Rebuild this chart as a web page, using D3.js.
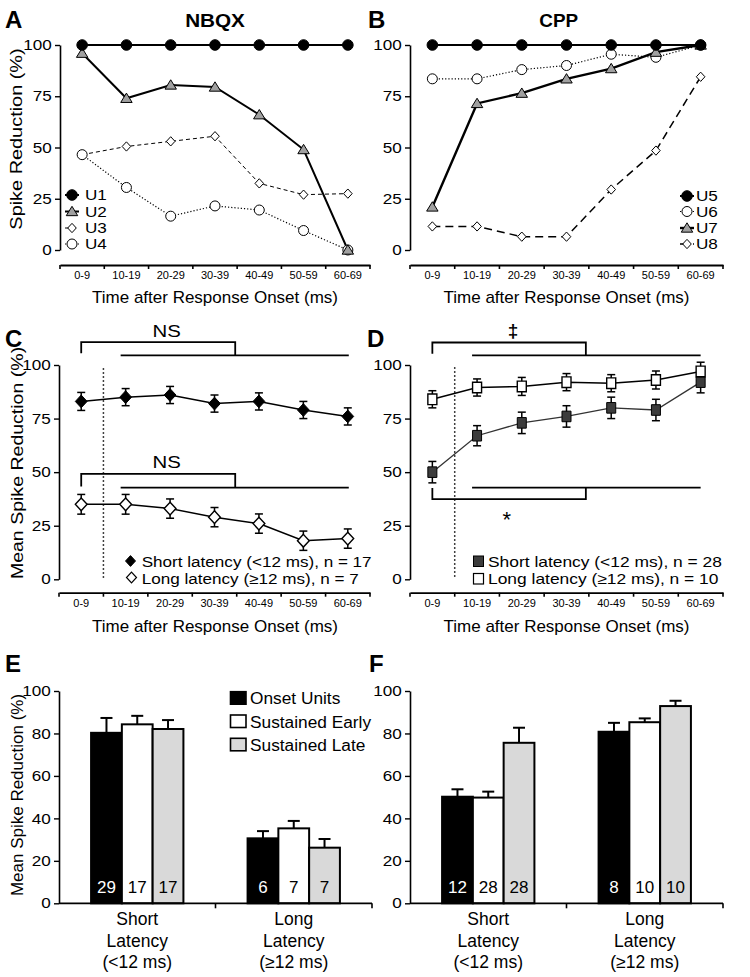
<!DOCTYPE html>
<html><head><meta charset="utf-8">
<script src="https://cdn.jsdelivr.net/npm/d3@7"></script>
<style>
body{margin:0;background:#fff}
svg{display:block}
text{font-family:"Liberation Sans",Arial,Helvetica,sans-serif}
</style>
</head><body>
<svg id="fig" width="750" height="977"></svg>
<script>
// ---------------- DATA ----------------
const timeBins = ["0-9","10-19","20-29","30-39","40-49","50-59","60-69"];
const pctTicks = [0,25,50,75,100];
const barTicks = [0,20,40,60,80,100];

// Panel A (NBQX, single units)
const nbqxU1 = [100,100,100,100,100,100,100];
const nbqxU2 = [96,74,80.5,79.5,66,49,0];
const nbqxU3 = [46.5,50.5,53,55.5,32.5,27,27.5];
const nbqxU4 = [46.5,30.5,16.5,21.5,19.5,9.5,0];
// Panel B (CPP, single units)
const cppU5 = [100,100,100,100,100,100,100];
const cppU6 = [83.5,83.5,88,90,95.5,94,100];
const cppU7 = [21,71.5,76.5,83.5,88.5,96.5,100];
const cppU8 = [11.5,11.5,6.5,6.5,29.5,48.5,84.5];
// Panel C (NBQX population)
const nbqxShortMean = [83,85,86,82,83,79,76];
const nbqxShortSem  = [4.2,4,4,4,4,4,4];
const nbqxLongMean  = [35,35,33,29,26,18,19];
const nbqxLongSem   = [4.6,4.6,4.5,4.5,4.5,4.5,4.5];
// Panel D (CPP population)
const cppShortMean = [50,67,73,76,80,79,92];
const cppShortSem  = [5,4.7,5,5,5,5,5];
const cppLongMean  = [84,89.5,90,92,91.5,93,97];
const cppLongSem   = [4,4,4.2,4,4,4.2,4.3];
// Panels E/F (bar charts)
const latencyGroups = ["Short","Long"];
const latencyLabels = [["Short","Latency","(<12 ms)"],["Long","Latency","(\u226512 ms)"]];
const unitTypes = ["Onset Units","Sustained Early","Sustained Late"];
const nbqxBarMean = [[80.3,84.3,82.1],[30.6,35.3,26.2]];
const nbqxBarSem  = [[7,4,4.2],[3.4,3.5,4.1]];
const nbqxBarN    = [[29,17,17],[6,7,7]];
const cppBarMean  = [[50.2,49.8,75.6],[80.8,85.3,92.9]];
const cppBarSem   = [[3.5,2.8,7.1],[4.2,1.8,2.5]];
const cppBarN     = [[12,28,28],[8,10,10]];

// ---------------- HELPERS ----------------
const FONT = '"Liberation Sans",Arial,Helvetica,sans-serif';
const svg = d3.select("#fig");
function txt(g, x, y, s, o = {}) {
  let tr = `translate(${x},${y})`;
  if (o.rot) tr += ` rotate(${o.rot})`;
  if (o.sx && o.sx !== 1) tr += ` scale(${o.sx},1)`;
  const t = g.append("text").attr("transform", tr)
    .style("font-size", (o.size || 17) + "px")
    .style("font-family", FONT)
    .attr("text-anchor", o.anchor || "start")
    .attr("fill", o.fill || "#000")
    .text(s);
  if (o.weight) t.style("font-weight", o.weight);
  return t;
}
const diamondT = { draw(c, s) { const r = Math.sqrt(s); c.moveTo(0, -r*1.08); c.lineTo(r, 0); c.lineTo(0, r*1.08); c.lineTo(-r, 0); c.closePath(); } };
const triT = { draw(c, s) { const r = Math.sqrt(s); c.moveTo(0, -r); c.lineTo(r*1.1, r*0.8); c.lineTo(-r*1.1, r*0.8); c.closePath(); } };
const rectT = { draw(c, s) { const r = Math.sqrt(s); c.rect(-r*0.85, -r, r*1.7, r*2); } };
const circT = { draw(c, s) { const r = Math.sqrt(s); c.moveTo(r, 0); c.arc(0, 0, r, 0, 2*Math.PI); } };
const shapes = { circle: circT, diamond: diamondT, triangle: triT, rect: rectT };

function yAxis(g, x0, y, ticks, sx) {
  const a = g.append("g").attr("transform", `translate(${x0},0)`)
    .call(d3.axisLeft(y).tickValues(ticks).tickSize(5).tickSizeOuter(0).tickPadding(2));
  a.select(".domain").attr("stroke-width", 1.6);
  a.selectAll(".tick line").attr("stroke-width", 1.4);
  a.selectAll(".tick text").style("font-size", "14.5px").attr("fill", "#000")
    .style("font-family", FONT)
    .attr("transform", `scale(${sx},1)`);
  return a;
}
function timeXAxis(g, x, yPos) {
  const a = g.append("g").attr("transform", `translate(0,${yPos})`)
    .call(d3.axisBottom(x).tickSize(0).tickSizeOuter(0).tickPadding(6.5));
  a.select(".domain").attr("stroke-width", 1.8);
  a.selectAll(".tick text").style("font-size", "11px").attr("fill", "#000")
    .style("font-family", FONT);
  const r = x.range();
  const bounds = d3.range(timeBins.length + 1).map(i => r[0] + i * x.step());
  a.selectAll("line.bt").data(bounds).join("line").attr("class", "bt")
    .attr("x1", d => d).attr("x2", d => d).attr("y1", 0).attr("y2", 4)
    .attr("stroke", "#000").attr("stroke-width", 1.6);
  return a;
}
function drawSeries(g, x, y, vals, st) {
  const cx = (d, i) => x(timeBins[i]) + x.bandwidth() / 2;
  g.append("path").datum(vals)
    .attr("d", d3.line().x(cx).y(d => y(d)))
    .attr("fill", "none").attr("stroke", st.lineColor || "#000")
    .attr("stroke-width", st.lw).attr("stroke-dasharray", st.dash || null);
}
function drawMarkers(g, x, y, vals, st) {
  const cx = (d, i) => x(timeBins[i]) + x.bandwidth() / 2;
  g.selectAll(null).data(vals).join("path")
    .attr("transform", (d, i) => `translate(${cx(d, i)},${y(d)})`)
    .attr("d", d3.symbol().type(shapes[st.shape]).size(st.r * st.r))
    .attr("fill", st.fill).attr("stroke", "#000").attr("stroke-width", st.sw || 1);
}
function drawErr(g, x, y, vals, errs, cap, sw) {
  const cx = i => x(timeBins[i]) + x.bandwidth() / 2;
  const eg = g.append("g").attr("stroke", "#000").attr("stroke-width", sw);
  vals.forEach((v, i) => {
    eg.append("line").attr("x1", cx(i)).attr("x2", cx(i)).attr("y1", y(v - errs[i])).attr("y2", y(v + errs[i]));
    [v - errs[i], v + errs[i]].forEach(e => eg.append("line")
      .attr("x1", cx(i) - cap / 2).attr("x2", cx(i) + cap / 2).attr("y1", y(e)).attr("y2", y(e)));
  });
}
function legendItem(g, lx, mx, tx, cy, label, st) {
  if (st.lw) g.append("line").attr("x1", lx[0]).attr("x2", lx[1]).attr("y1", cy).attr("y2", cy)
    .attr("stroke", "#000").attr("stroke-width", st.lw).attr("stroke-dasharray", st.dash || null);
  g.append("path").attr("transform", `translate(${mx},${cy})`)
    .attr("d", d3.symbol().type(shapes[st.shape]).size(st.r * st.r))
    .attr("fill", st.fill).attr("stroke", "#000").attr("stroke-width", st.sw || 1);
  txt(g, tx, cy + 5.2, label, { size: 14.5, sx: 1.18 });
}

// ---------------- PANEL A ----------------
{
  const g = svg.append("g");
  const x = d3.scaleBand().domain(timeBins).range([60, 370]);
  const y = d3.scaleLinear().domain([0, 100]).range([250, 45]);
  yAxis(g, 60, y, pctTicks, 1.18);
  timeXAxis(g, x, 265);
  const sU1 = { lw: 2, shape: "circle", r: 5.3, fill: "#000" };
  const sU2 = { lw: 2, shape: "triangle", r: 5.2, fill: "#a0a0a0" };
  const sU3 = { lw: 1, dash: "4,3", shape: "diamond", r: 4.3, fill: "#fff" };
  const sU4 = { lw: 1.2, dash: "1.2,2", shape: "circle", r: 5, fill: "#fff" };
  drawSeries(g, x, y, nbqxU3, sU3);
  drawSeries(g, x, y, nbqxU4, sU4);
  drawSeries(g, x, y, nbqxU2, sU2);
  drawSeries(g, x, y, nbqxU1, sU1);
  drawMarkers(g, x, y, nbqxU3, sU3);
  drawMarkers(g, x, y, nbqxU4, sU4);
  drawMarkers(g, x, y, nbqxU2, sU2);
  drawMarkers(g, x, y, nbqxU1, sU1);
  const lg = g.append("g");
  legendItem(lg, [65, 79], 72, 85, 195, "U1", sU1);
  legendItem(lg, [65, 79], 72, 85, 211.5, "U2", sU2);
  legendItem(lg, [65, 79], 72, 85, 228, "U3", sU3);
  legendItem(lg, [65, 79], 72, 85, 244, "U4", sU4);
  txt(g, 5, 28, "A", { size: 24, weight: "bold" });
  txt(g, 215, 27.3, "NBQX", { size: 18, weight: "bold", anchor: "middle", sx: 1.15 });
  txt(g, 22, 139, "Spike Reduction (%)", { size: 17, anchor: "middle", rot: -90, sx: 1.17 });
  txt(g, 215, 302.5, "Time after Response Onset (ms)", { size: 17, anchor: "middle" });
}

// ---------------- PANEL B ----------------
{
  const g = svg.append("g");
  const x = d3.scaleBand().domain(timeBins).range([410, 723]);
  const y = d3.scaleLinear().domain([0, 100]).range([250, 45]);
  yAxis(g, 410, y, pctTicks, 1.18);
  timeXAxis(g, x, 265);
  const sU5 = { lw: 2, shape: "circle", r: 5.3, fill: "#000" };
  const sU6 = { lw: 1.2, dash: "1.2,2", shape: "circle", r: 5, fill: "#fff" };
  const sU7 = { lw: 2.4, shape: "triangle", r: 5.2, fill: "#a0a0a0" };
  const sU8 = { lw: 1.5, dash: "8,5", shape: "diamond", r: 4.3, fill: "#fff" };
  drawSeries(g, x, y, cppU8, sU8);
  drawSeries(g, x, y, cppU6, sU6);
  drawSeries(g, x, y, cppU7, sU7);
  drawSeries(g, x, y, cppU5, sU5);
  drawMarkers(g, x, y, cppU8, sU8);
  drawMarkers(g, x, y, cppU6, sU6);
  drawMarkers(g, x, y, cppU7, sU7);
  drawMarkers(g, x, y, cppU5, sU5);
  const lg = g.append("g");
  legendItem(lg, [680, 694], 687, 696, 196, "U5", sU5);
  legendItem(lg, [680, 694], 687, 696, 211.5, "U6", sU6);
  legendItem(lg, [680, 694], 687, 696, 228, "U7", sU7);
  legendItem(lg, [680, 694], 687, 696, 244, "U8", sU8);
  txt(g, 368, 28, "B", { size: 24, weight: "bold" });
  txt(g, 558.7, 27.3, "CPP", { size: 18, weight: "bold", anchor: "middle", sx: 1.05 });
  txt(g, 566.5, 302.5, "Time after Response Onset (ms)", { size: 17, anchor: "middle" });
}

// ---------------- PANEL C ----------------
{
  const g = svg.append("g");
  const x = d3.scaleBand().domain(timeBins).range([59, 370]);
  const y = d3.scaleLinear().domain([0, 100]).range([579.3, 365]);
  const cx = b => x(b) + x.bandwidth() / 2;
  yAxis(g, 59, y, pctTicks, 1.18);
  timeXAxis(g, x, 592.7);
  g.append("line").attr("x1", x(timeBins[1])).attr("x2", x(timeBins[1]))
    .attr("y1", y(98.5)).attr("y2", y(0)).attr("stroke", "#000").attr("stroke-width", 1.5).attr("stroke-dasharray", "1.5,2.5");
  const br = g.append("g").attr("fill", "none").attr("stroke", "#000").attr("stroke-width", 1.8);
  const bnd4 = x(timeBins[4]) - 1.5;
  [[110.7, 105.5, 104.5], [49.2, 43.3, 42.8]].forEach(([top, tip, low]) => {
    br.append("path").attr("d", `M${cx(timeBins[0])},${y(tip)}V${y(top)}H${bnd4}V${y(low)}`);
    br.append("path").attr("d", `M${cx(timeBins[1]) - 5},${y(low)}H${cx(timeBins[6]) + 1}`);
  });
  txt(g, 166.7, y(110.7) - 5, "NS", { size: 17, anchor: "middle", sx: 1.2 });
  txt(g, 166.7, y(49.2) - 6, "NS", { size: 17, anchor: "middle", sx: 1.2 });
  const sS = { lw: 1.5, shape: "diamond", r: 5.9, fill: "#000" };
  const sL = { lw: 1.5, shape: "diamond", r: 5.9, fill: "#fff", sw: 1.4 };
  drawErr(g, x, y, nbqxShortMean, nbqxShortSem, 8, 1.5);
  drawErr(g, x, y, nbqxLongMean, nbqxLongSem, 8, 1.5);
  drawSeries(g, x, y, nbqxShortMean, sS);
  drawSeries(g, x, y, nbqxLongMean, sL);
  drawMarkers(g, x, y, nbqxShortMean, sS);
  drawMarkers(g, x, y, nbqxLongMean, sL);
  g.append("path").attr("transform", "translate(130.5,561)").attr("d", d3.symbol().type(diamondT).size(25)).attr("fill", "#000").attr("stroke", "#000");
  g.append("path").attr("transform", "translate(131.5,577.5)").attr("d", d3.symbol().type(diamondT).size(25)).attr("fill", "#fff").attr("stroke", "#000").attr("stroke-width", 1.2);
  txt(g, 141.7, 566.5, "Short latency (<12 ms), n = 17", { size: 15, sx: 1.14 });
  txt(g, 141.7, 583.7, "Long latency (\u226512 ms), n = 7", { size: 15, sx: 1.14 });
  txt(g, 5, 347, "C", { size: 24, weight: "bold" });
  txt(g, 23, 463, "Mean Spike Reduction (%)", { size: 17, anchor: "middle", rot: -90, sx: 1.15 });
  txt(g, 215, 631.5, "Time after Response Onset (ms)", { size: 17, anchor: "middle" });
}

// ---------------- PANEL D ----------------
{
  const g = svg.append("g");
  const x = d3.scaleBand().domain(timeBins).range([410, 723]);
  const y = d3.scaleLinear().domain([0, 100]).range([579.3, 365]);
  const cx = b => x(b) + x.bandwidth() / 2;
  yAxis(g, 410, y, pctTicks, 1.18);
  timeXAxis(g, x, 592.7);
  g.append("line").attr("x1", x(timeBins[1])).attr("x2", x(timeBins[1]))
    .attr("y1", y(99)).attr("y2", y(0)).attr("stroke", "#000").attr("stroke-width", 1.5).attr("stroke-dasharray", "1.5,2.5");
  const br = g.append("g").attr("fill", "none").attr("stroke", "#000").attr("stroke-width", 1.8);
  const bnd4 = x(timeBins[4]) - 3;
  br.append("path").attr("d", `M${cx(timeBins[0])},${y(105.3)}V${y(110.5)}H${bnd4}V${y(104.5)}`);
  br.append("path").attr("d", `M${cx(timeBins[1]) - 5},${y(104.5)}H${cx(timeBins[6])}`);
  br.append("path").attr("d", `M${cx(timeBins[1]) - 5},${y(42.8)}H${cx(timeBins[6])}`);
  br.append("path").attr("d", `M${cx(timeBins[0])},${y(42.6)}V${y(37.4)}H${bnd4}V${y(42.8)}`);
  txt(g, 513, 337, "\u2021", { size: 19, weight: "bold", anchor: "middle" });
  txt(g, 506.7, 527, "*", { size: 22, anchor: "middle" });
  const sS = { lw: 1.3, lineColor: "#333", shape: "rect", r: 5.3, fill: "#3c3c3c" };
  const sL = { lw: 1.5, shape: "rect", r: 5.3, fill: "#fff", sw: 1.4 };
  drawErr(g, x, y, cppShortMean, cppShortSem, 8, 1.5);
  drawErr(g, x, y, cppLongMean, cppLongSem, 8, 1.5);
  drawSeries(g, x, y, cppShortMean, sS);
  drawSeries(g, x, y, cppLongMean, sL);
  drawMarkers(g, x, y, cppShortMean, sS);
  drawMarkers(g, x, y, cppLongMean, sL);
  g.append("rect").attr("x", 473.5).attr("y", 556).attr("width", 10).attr("height", 10.5).attr("fill", "#3c3c3c").attr("stroke", "#000");
  g.append("rect").attr("x", 473.5).attr("y", 573.5).attr("width", 10).attr("height", 10.5).attr("fill", "#fff").attr("stroke", "#000").attr("stroke-width", 1.2);
  txt(g, 488, 566.5, "Short latency (<12 ms), n = 28", { size: 15, sx: 1.16 });
  txt(g, 488, 583.7, "Long latency (\u226512 ms), n = 10", { size: 15, sx: 1.16 });
  txt(g, 367, 347, "D", { size: 24, weight: "bold" });
  txt(g, 566.5, 631.5, "Time after Response Onset (ms)", { size: 17, anchor: "middle" });
}

// ---------------- PANELS E / F ----------------
const barFills = ["#000", "#fff", "#d9d9d9"];
const nFills = ["#fff", "#000", "#000"];
function barPanel(x0, x1, means, sems, ns) {
  const g = svg.append("g");
  const x = d3.scaleBand().domain(latencyGroups).range([x0, x1]).paddingInner(0.41).paddingOuter(0.205);
  const xs = d3.scaleBand().domain(unitTypes).range([0, x.bandwidth()]);
  const y = d3.scaleLinear().domain([0, 100]).range([903.3, 691]);
  latencyGroups.forEach((grp, gi) => {
    unitTypes.forEach((u, ui) => {
      const bx = x(grp) + xs(u), bw = xs.bandwidth(), m = means[gi][ui], e = sems[gi][ui];
      const c = bx + bw / 2;
      g.append("line").attr("x1", c).attr("x2", c).attr("y1", y(m)).attr("y2", y(m + e)).attr("stroke", "#000").attr("stroke-width", 2);
      g.append("line").attr("x1", c - 6).attr("x2", c + 6).attr("y1", y(m + e)).attr("y2", y(m + e)).attr("stroke", "#000").attr("stroke-width", 2);
      g.append("rect").attr("x", bx).attr("y", y(m)).attr("width", bw).attr("height", y(0) - y(m))
        .attr("fill", barFills[ui]).attr("stroke", "#000").attr("stroke-width", 2);
      txt(g, c, 892.5, String(ns[gi][ui]), { size: 17, anchor: "middle", fill: nFills[ui] });
    });
    latencyLabels[gi].forEach((s, li) => txt(g, x(grp) + x.bandwidth() / 2, [925, 946.5, 968][li], s, { size: 17.5, anchor: "middle" }));
  });
  yAxis(g, x0, y, barTicks, 1.18);
  const xa = g.append("g");
  xa.append("line").attr("x1", x0).attr("x2", x1).attr("y1", y(0)).attr("y2", y(0)).attr("stroke", "#000").attr("stroke-width", 1.8);
  const step = x.step();
  [x0 + step, x1].forEach(v => xa.append("line").attr("x1", v).attr("x2", v).attr("y1", y(0)).attr("y2", y(0) + 5).attr("stroke", "#000").attr("stroke-width", 1.6));
  return g;
}
{
  const g = barPanel(59, 372, nbqxBarMean, nbqxBarSem, nbqxBarN);
  txt(g, 5, 672, "E", { size: 24, weight: "bold" });
  txt(g, 23, 795, "Mean Spike Reduction  (%)", { size: 17, anchor: "middle", rot: -90 });
  const lgY = [691.7, 715, 738.3];
  unitTypes.forEach((u, i) => {
    g.append("rect").attr("x", 230.5).attr("y", lgY[i]).attr("width", 15.5).attr("height", 12.5)
      .attr("fill", barFills[i]).attr("stroke", "#000").attr("stroke-width", 1.6);
    txt(g, 250, lgY[i] + 12.6, u, { size: 17.3 });
  });
}
{
  const g = barPanel(410, 723, cppBarMean, cppBarSem, cppBarN);
  txt(g, 369, 672, "F", { size: 24, weight: "bold" });
}
</script>
</body></html>
